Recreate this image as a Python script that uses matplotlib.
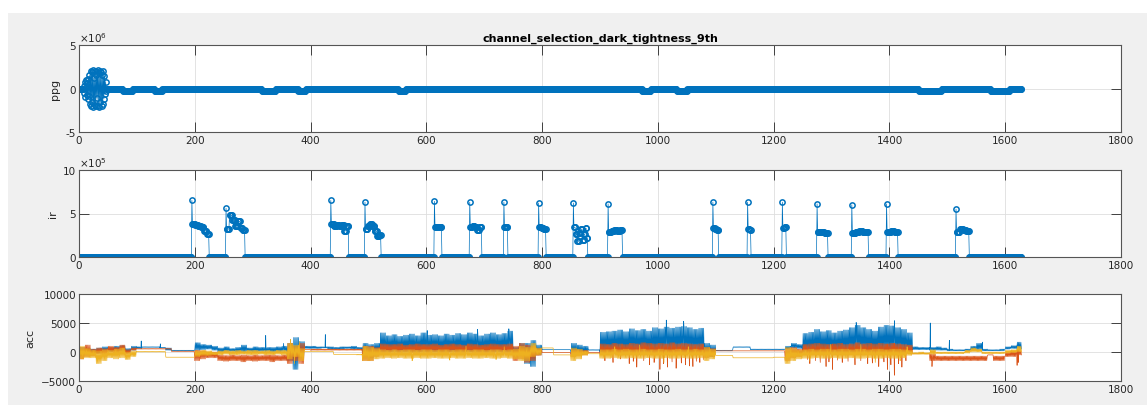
import numpy as np
import matplotlib as mpl
mpl.use('Agg')
mpl.rcParams.update({'font.family': 'DejaVu Sans', 'font.size': 7.5})
from matplotlib import pyplot as plt
from matplotlib.patches import Rectangle

BLUE = '#0072BD'
ORANGE = '#D95319'
YELLOW = '#EDB120'
AXC = '#262626'

n_samples = 1629

# ppg: mostly flat, short negative dips and an initial burst (x1e6)
ppg_dips = [(76, 92), (131, 143), (316, 339), (379, 391), (552, 564),
            (973, 987), (1033, 1050), (1451, 1489), (1575, 1607)]
ppg_dip_level = -0.25
ppg_burst_start = 8
ppg_burst = [0.3, -0.5, 0.8, -1.0, 1.0, -0.8, 0.6, -1.2, 1.1, -0.9,
             1.5, -1.8, 2.0, -2.0, 1.9, -1.5, 2.1, -2.1, 1.2, -1.9,
             2.0, -2.0, 1.6, -1.1, 2.1, -2.0, 1.8, -2.1, 2.0, -1.6,
             1.9, -2.0, 1.5, -1.8, 2.0, -1.2, 1.4, -0.6, 0.8, -0.3]

# ir: pulses with a leading peak and a plateau (x1e5)
ir_start = [195, 254, 435, 494, 614, 675, 734, 794, 854, 914,
            1095, 1155, 1215, 1275, 1335, 1395, 1515]
ir_end = [224, 286, 465, 521, 626, 695, 740, 806, 878, 938,
          1104, 1160, 1221, 1293, 1363, 1414, 1537]
ir_peak = [6.5, 5.6, 6.5, 6.3, 6.4, 6.3, 6.3, 6.2, 6.2, 6.1,
           6.3, 6.3, 6.3, 6.1, 6.0, 6.1, 5.5]
ir_plateau = [
    [3.8, 3.7, 3.6, 3.4, 3.0, 2.6],
    [3.2, 4.8, 4.2, 3.6, 4.1, 3.3, 3.1],
    [3.8, 3.6, 3.7, 3.6, 3.7, 3.0, 3.6],
    [3.2, 3.6, 3.8, 3.6, 3.0, 2.4, 2.5],
    [3.5, 3.5],
    [3.5, 3.6, 3.4, 3.1, 3.4],
    [3.5, 3.5],
    [3.4, 3.3, 3.2],
    [3.4, 2.6, 1.8, 2.8, 3.2, 2.0, 2.6, 3.3, 2.2],
    [2.9, 3.0, 3.1, 3.0, 3.1],
    [3.3, 3.2, 3.1],
    [3.2, 3.1],
    [3.3, 3.4],
    [2.9, 2.9, 2.8],
    [2.8, 2.9, 3.0, 2.9, 2.9],
    [2.9, 3.0, 2.9],
    [2.9, 3.2, 3.1, 3.0],
]

# acc: low/high envelope per 10-sample block, plus isolated spikes
blue_lo = [
    -600, -300, 0, -200, 0, 100, 200, 100, -100, 300,
    600, 800, 800, 800, 700, 300, 200, 200, 200, 200,
    300, 400, 500, 300, 0, 0, 100, 0, 0, 100,
    0, 100, 100, 0, 0, 100, -1500, -3000, -1000, 600,
    600, 600, 700, 500, 500, 500, 600, 500, 500, -500,
    -1000, 0, 0, 0, 0, 0, 0, 0, 0, 0,
    0, 0, 0, 0, 0, 0, 0, 0, 0, 0,
    0, 0, 0, 0, 0, -500, -500, -2000, -2500, -500,
    400, 400, 400, 400, 400, -300, -300, -200, 300, 300,
    0, 0, 0, 0, 0, 0, 0, 0, 0, 0,
    0, 0, 0, 0, 0, 0, 0, 0, -500, -800,
    200, 200, 200, 800, 800, 800, 400, 400, 400, 400,
    400, 400, 500, 700, 600, 0, 0, 0, 0, 0,
    0, 0, 0, 0, 0, 0, 0, 0, 0, 0,
    0, 0, 0, 0, 400, 400, 400, 300, 300, 300,
    200, 200, 200, 200, 300, 400, 200, 200, 200, 200,
    500, 600, 500]
blue_hi = [
    800, 600, 500, 700, 900, 800, 1000, 1100, 600, 1000,
    900, 900, 900, 900, 800, 700, 300, 300, 300, 300,
    1600, 1300, 1200, 1000, 700, 900, 600, 800, 1200, 700,
    900, 800, 800, 800, 900, 1000, 1500, 2500, 1800, 1000,
    1000, 900, 900, 900, 800, 900, 900, 1000, 800, 1500,
    1300, 1500, 3300, 2800, 3000, 2700, 2900, 3100, 2800, 3300,
    2900, 3000, 2800, 3100, 2900, 3200, 3000, 3300, 3100, 2800,
    3100, 3300, 3000, 3200, 3600, 800, 1500, 1500, 2000, 1200,
    400, 400, 400, 400, 400, 1500, 1200, 1000, 400, 400,
    3400, 3500, 3600, 3800, 3500, 4000, 3700, 3900, 3600, 4200,
    4000, 4300, 4100, 4300, 4400, 4200, 3900, 4100, 1500, 1200,
    300, 300, 300, 900, 900, 900, 500, 500, 500, 500,
    500, 500, 1000, 1500, 1300, 3200, 3400, 3900, 3500, 3700,
    3300, 3600, 3800, 4200, 4600, 4200, 3900, 3600, 4300, 4600,
    4500, 4200, 3900, 3300, 900, 800, 800, 800, 900, 700,
    500, 400, 400, 500, 1000, 1500, 500, 400, 400, 500,
    900, 1100, 1700]
blue_spike_x = [107, 140, 322, 353, 425, 601, 688, 742, 1014, 1044,
                1342, 1408, 1470, 1503, 1560]
blue_spike_y = [1900, 1400, 2850, 1500, 3000, 3700, 3900, 4000, 5500, 5300,
                5100, 5400, 5000, 2000, 1700]

orange_lo = [
    -1200, -800, -700, -300, -500, 0, -200, 100, -300, 300,
    500, 500, 500, 500, 500, 500, 100, 100, 100, 100,
    -1500, -1200, -1000, -1000, -1500, -1600, -1500, -1500, -1700, -1500,
    -1600, -1500, -1500, -1700, -1500, -1500, -2000, -1500, -2000, 400,
    300, 300, 300, 300, 300, 300, 300, 300, 300, -1500,
    -1500, -800, -100, -100, 0, -100, 0, -100, -100, 0,
    -100, 0, -100, -100, 0, -100, -100, 0, -100, -100,
    -100, -100, 0, -100, -100, -1500, -1200, -1800, -1500, -600,
    -100, -100, -100, -100, -100, -800, -600, -500, -100, -100,
    -300, -400, -300, -500, -400, -300, -500, -400, -300, -400,
    -400, -300, -500, -300, -400, -300, -500, -400, -1000, -800,
    200, 200, 200, 200, 200, 200, 200, 200, 200, 200,
    200, 200, -1500, -1000, -800, -300, -400, -300, -500, -400,
    -300, -400, -500, -300, -400, -500, -300, -400, -500, -300,
    -400, -500, -300, -300, -300, -300, -300, -1500, -1500, -1500,
    -1500, -1500, -1500, -1500, -1500, -1500, -1500, -500, -1500, -1500,
    -800, -800, -500]
orange_hi = [
    800, 1200, 500, 700, 600, 1000, 800, 1200, 400, 700,
    600, 600, 600, 600, 600, 600, 150, 150, 150, 150,
    300, 200, 0, 0, -500, -600, -500, -600, -500, -600,
    -500, -600, -500, -500, -600, -500, 1500, 1000, 1500, 400,
    500, 500, 500, 500, 500, 500, 500, 500, 500, 1000,
    1000, 800, 1400, 1300, 1300, 1400, 1200, 1300, 1400, 1300,
    1300, 1400, 1200, 1300, 1400, 1300, 1200, 1400, 1300, 1200,
    1300, 1400, 1300, 1300, 1400, 1000, 1500, 1200, 1000, 600,
    -100, -100, -100, -100, -100, 500, 400, 300, -100, -100,
    1400, 1300, 1500, 1400, 1300, 1500, 1400, 1600, 1500, 1400,
    1500, 1400, 1600, 1400, 1500, 1400, 1300, 1400, 800, 600,
    200, 200, 200, 200, 200, 200, 200, 200, 200, 200,
    200, 200, 600, 800, 500, 1300, 1400, 1500, 1400, 1300,
    1400, 1500, 1300, 1400, 1600, 1400, 1500, 1400, 1500, 1400,
    1500, 1400, 1300, 1200, -300, -200, -300, -300, -700, -700,
    -700, -700, -700, -700, -700, -700, -700, -500, -700, -700,
    0, 200, 300]
orange_spike_x = [908, 922, 935, 950, 957, 963, 975, 985, 993, 1003, 1009,
                  1016, 1024, 1031, 1040, 1047, 1054, 1060, 1066, 1072, 1078,
                  1258, 1262, 1272, 1280, 1290, 1295, 1301, 1310, 1318, 1328, 1340,
                  1350, 1362, 1370, 1381, 1390, 1396, 1402, 1408, 1415, 1421, 1428,
                  1473, 1620, 1622]
orange_spike_y = [-1500, -1800, -1200, -2000, -1600, -2600, -1500, -2200, -1800, -3000, -2000,
                  -2600, -1700, -2800, -1900, -2200, -2400, -2500, -1600, -1800, -1300,
                  -1300, -2000, -1500, -1800, -2500, -1700, -3000, -1400, -1800, -1600, -2200,
                  -1500, -2000, -1900, -2500, -1700, -3000, -2200, -4000, -2000, -2600, -1500,
                  -2500, -2300, -1800]

yellow_lo = [
    -1200, -1000, -1000, -2000, -1500, -1000, -1200, -1000, -1300, -800,
    0, 0, 0, 0, 0, -900, -900, -900, -900, -900,
    -800, -600, -600, -500, -500, -400, -500, -500, -400, -500,
    -500, -400, -500, -500, -400, -500, -1200, -800, -1500, 100,
    100, 100, 100, 100, -400, -400, -400, -400, -500, -1500,
    -1500, -1200, -1100, -1000, -1100, -1000, -1100, -1100, -1000, -1100,
    -1100, -1000, -1100, -1100, -1000, -1100, -1100, -1000, -1100, -1100,
    -1000, -1100, -1100, -1000, -1100, -1200, -1500, -1500, -800, -500,
    700, 700, -500, -500, -500, -1500, -1200, -600, -300, -300,
    -1100, -1100, -1000, -1100, -1100, -1000, -1100, -1100, -1000, -1100,
    -1100, -1000, -1100, -1100, -1000, -1100, -1100, -1000, -1500, -1200,
    -600, -600, -600, -1000, -1000, -1000, -1000, -1000, -1000, -1000,
    -900, -900, -2000, -1500, -1200, -1100, -1100, -1000, -1100, -1100,
    -1000, -1100, -1100, -1000, -1100, -1100, -1000, -1100, -1100, -1000,
    -1100, -1100, -1000, -600, -400, -400, -400, -400, -300, -300,
    -300, -300, -300, -200, 0, 0, -300, -300, -300, -300,
    -200, -100, 0]
yellow_hi = [
    1000, 600, 300, 200, 400, 300, 500, 700, 0, 200,
    100, 100, 100, 100, 100, -900, -900, -900, -900, -900,
    200, 300, 200, 0, 200, 300, 200, 300, 200, 300,
    300, 200, 300, 200, 300, 300, 1500, 1200, 600, 100,
    100, 100, 100, 100, -400, -400, -400, -400, -400, 1000,
    800, 600, 400, 300, 400, 300, 400, 400, 300, 400,
    400, 300, 400, 400, 300, 400, 400, 300, 400, 400,
    300, 400, 400, 300, 400, 500, 1000, 800, 1500, 700,
    700, 700, -500, -500, -500, 700, 500, 200, -300, -300,
    400, 400, 500, 400, 500, 400, 400, 500, 400, 400,
    500, 400, 400, 500, 400, 400, 500, 400, 800, 500,
    -600, -600, -600, -1000, -1000, -1000, -1000, -1000, -1000, -1000,
    -900, -900, 800, 600, 300, 400, 500, 400, 500, 500,
    400, 500, 500, 400, 500, 500, 400, 500, 500, 400,
    500, 500, 400, 300, -100, 0, -100, 400, 0, 0,
    0, 0, 0, 300, 700, 500, 0, 0, 0, 0,
    300, 400, 1000]
yellow_spike_x = [365, 372, 380, 575, 640, 668, 720, 734, 925, 968, 1010, 1052,
                  1262, 1298, 1350, 1375, 1418, 1430]
yellow_spike_y = [2200, -2000, 1800, -1500, -1400, 1000, -1300, 900, 900, 1200, -1800, 900,
                  -1600, 1300, 1300, -1800, -1500, 900]

x_ticks = [0, 200, 400, 600, 800, 1000, 1200, 1400, 1600, 1800]


def ppg_series():
    y = np.zeros(n_samples)
    for a, b in ppg_dips:
        y[a:b + 1] = ppg_dip_level
    y[ppg_burst_start:ppg_burst_start + len(ppg_burst)] = ppg_burst
    return y * 1e6


def ir_series():
    y = np.zeros(n_samples)
    for s, e, pk, levels in zip(ir_start, ir_end, ir_peak, ir_plateau):
        y[s] = pk
        for chunk, lv in zip(np.array_split(np.arange(s + 1, e + 1), len(levels)), levels):
            y[chunk] = lv
    return y * 1e5


def acc_series(lo, hi, sx=(), sy=()):
    # one sample per unit, swinging between the block's low and high values
    lo = np.repeat(np.asarray(lo, float), 10)
    hi = np.repeat(np.asarray(hi, float), 10)
    xs = np.arange(len(lo), dtype=float)
    ys = np.where(xs % 2 == 0, lo, hi)
    xs = np.concatenate([xs, np.asarray(sx, float) + 0.5])
    ys = np.concatenate([ys, np.asarray(sy, float)])
    order = np.argsort(xs, kind='stable')
    xs, ys = xs[order], ys[order]
    keep = xs <= n_samples - 1
    return xs[keep], ys[keep]


def style(ax):
    ax.set_xlim(0, 1800)
    ax.set_xticks(x_ticks)
    ax.grid(True, color='#dedede', linewidth=0.6)
    ax.set_axisbelow(True)
    ax.tick_params(direction='in', length=7, width=0.6, top=True, right=True,
                   colors=AXC, labelsize=7.5, pad=2)
    for sp in ax.spines.values():
        sp.set_color('#555555')
        sp.set_linewidth(0.8)


fig = plt.figure(figsize=(11.47, 4.06), dpi=100, facecolor='white')
fig.add_artist(Rectangle((8 / 1147, 0), 1, 1 - 14 / 406, transform=fig.transFigure,
                         facecolor='#f0f0f0', edgecolor='none', zorder=-10))

left, width, h = 79 / 1147, 1042 / 1147, 87 / 406
ax1 = fig.add_axes([left, 1 - 133 / 406, width, h])
ax2 = fig.add_axes([left, 1 - 258 / 406, width, h])
ax3 = fig.add_axes([left, 1 - 382 / 406, width, h])

x = np.arange(n_samples)
mk = dict(color=BLUE, lw=0.5, ms=3.8, mfc='none', mew=1.1)

ax1.plot(x, ppg_series(), '-o', **mk)
ax1.set_ylim(-5e6, 5e6)
ax1.set_yticks([-5e6, 0, 5e6])
ax1.set_yticklabels(['-5', '0', '5'])
ax1.set_ylabel('ppg', color=AXC, fontsize=8)
ax1.text(0.0, 1.01, r'$\times10^{6}$', transform=ax1.transAxes, fontsize=7.5,
         color=AXC, va='bottom', ha='left')
ax1.set_title('channel_selection_dark_tightness_9th', fontsize=8, fontweight='bold',
              color='black', pad=3)
style(ax1)

ax2.plot(x, ir_series(), '-o', **mk)
ax2.set_ylim(0, 1e6)
ax2.set_yticks([0, 5e5, 1e6])
ax2.set_yticklabels(['0', '5', '10'])
ax2.set_ylabel('ir', color=AXC, fontsize=8)
ax2.text(0.0, 1.01, r'$\times10^{5}$', transform=ax2.transAxes, fontsize=7.5,
         color=AXC, va='bottom', ha='left')
style(ax2)

for lo, hi, sx, sy, c in [(blue_lo, blue_hi, blue_spike_x, blue_spike_y, BLUE),
                          (orange_lo, orange_hi, orange_spike_x, orange_spike_y, ORANGE),
                          (yellow_lo, yellow_hi, yellow_spike_x, yellow_spike_y, YELLOW)]:
    xs, ys = acc_series(lo, hi, sx, sy)
    ax3.plot(xs, ys, color=c, lw=0.5)
ax3.set_ylim(-5000, 10000)
ax3.set_yticks([-5000, 0, 5000, 10000])
ax3.set_ylabel('acc', color=AXC, fontsize=8)
style(ax3)

fig.savefig('out.png', dpi=100, facecolor=fig.get_facecolor())
